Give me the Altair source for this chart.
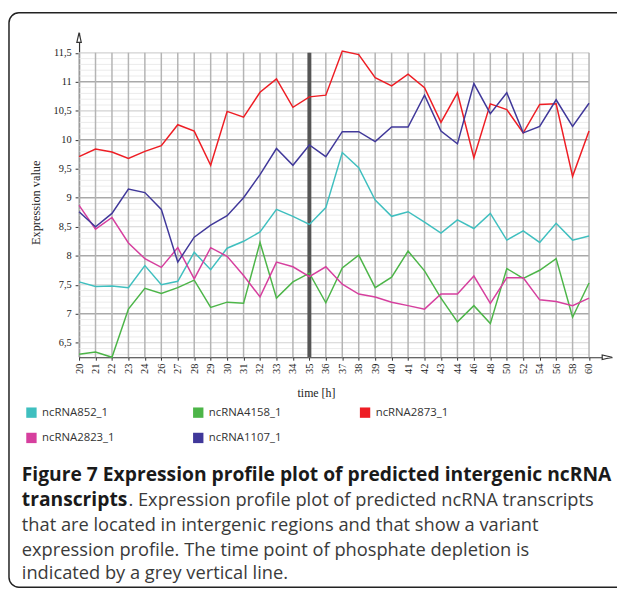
import altair as alt
import pandas as pd

# ---------------- data ----------------
times = ["20", "21", "22", "23", "24", "26", "27", "28", "29", "30", "31", "32",
         "33", "34", "35", "36", "37", "38", "39", "40", "41", "42", "43", "44",
         "46", "48", "50", "52", "54", "56", "58", "60"]

series_names = ["ncRNA852_1", "ncRNA4158_1", "ncRNA2873_1", "ncRNA2823_1", "ncRNA1107_1"]
series_colors = ["#3fbfbf", "#4cb548", "#ee1d24", "#d63f9e", "#40389a"]

ncRNA852_1 = [7.55, 7.47, 7.48, 7.45, 7.83, 7.50, 7.56, 8.06, 7.76, 8.13, 8.25, 8.41,
              8.80, 8.68, 8.54, 8.83, 9.78, 9.52, 8.96, 8.68, 8.76, 8.58, 8.39, 8.62,
              8.47, 8.73, 8.27, 8.43, 8.23, 8.56, 8.27, 8.34]
ncRNA4158_1 = [6.30, 6.34, 6.25, 7.08, 7.44, 7.35, 7.45, 7.58, 7.11, 7.20, 7.18, 8.23,
               7.27, 7.55, 7.70, 7.19, 7.79, 8.01, 7.45, 7.63, 8.08, 7.74, 7.27, 6.86,
               7.14, 6.83, 7.78, 7.61, 7.75, 7.95, 6.94, 7.53]
ncRNA2873_1 = [9.71, 9.84, 9.79, 9.68, 9.80, 9.90, 10.26, 10.15, 9.56, 10.49, 10.39, 10.82,
               11.05, 10.56, 10.74, 10.77, 11.53, 11.47, 11.07, 10.93, 11.13, 10.90, 10.30, 10.81,
               9.69, 10.62, 10.52, 10.12, 10.61, 10.62, 9.37, 10.15]
ncRNA2823_1 = [8.87, 8.46, 8.66, 8.22, 7.95, 7.80, 8.14, 7.60, 8.14, 7.99, 7.66, 7.29,
               7.89, 7.81, 7.64, 7.81, 7.51, 7.34, 7.29, 7.20, 7.14, 7.08, 7.34, 7.34,
               7.65, 7.18, 7.62, 7.62, 7.24, 7.21, 7.14, 7.27]
ncRNA1107_1 = [8.76, 8.50, 8.73, 9.15, 9.09, 8.80, 7.89, 8.32, 8.53, 8.69, 9.00, 9.40,
               9.85, 9.56, 9.91, 9.71, 10.14, 10.14, 9.97, 10.22, 10.22, 10.77, 10.15, 9.93,
               10.97, 10.45, 10.81, 10.12, 10.23, 10.69, 10.23, 10.63]

series_values = [ncRNA852_1, ncRNA4158_1, ncRNA2873_1, ncRNA2823_1, ncRNA1107_1]

y_tick_values = [6.5, 7, 7.5, 8, 8.5, 9, 9.5, 10, 10.5, 11, 11.5]
phosphate_time = "35"

caption_bold_1 = "Figure 7 Expression profile plot of predicted intergenic ncRNA"
caption_bold_2 = "transcripts"
caption_rest_2 = ". Expression profile plot of predicted ncRNA transcripts"
caption_lines = ["that are located in intergenic regions and that show a variant",
                 "expression profile. The time point of phosphate depletion is",
                 "indicated by a grey vertical line."]

# ---------------- tables ----------------
rows = []
for name, vals in zip(series_names, series_values):
    for i, (t, v) in enumerate(zip(times, vals)):
        rows.append({"idx": i, "time": t, "series": name, "value": v})
df = pd.DataFrame(rows)

GRID_LO, GRID_HI = 6.25, 11.5
Y_MIN, Y_MAX = 6.25, 11.85
X_MAX = 32.4
W, H = 540, 329
last_idx = len(times) - 1

minor_vals = [round(6.3 + 0.1 * k, 1) for k in range(53)]
minor_vals = [v for v in minor_vals if abs(v * 2 - round(v * 2)) > 1e-6]
half_vals = [v for v in y_tick_values if v % 1 != 0]
int_vals = [v for v in y_tick_values if v % 1 == 0]

xscale = alt.Scale(domain=[0, X_MAX], nice=False, zero=False)
yscale = alt.Scale(domain=[Y_MIN, Y_MAX], nice=False, zero=False)

label_array = "[" + ",".join("'" + t + "'" for t in times) + "]"
SERIF = "Liberation Serif"

xaxis = alt.Axis(values=list(range(len(times))), labelExpr=label_array + "[datum.value]",
                 labelAngle=270, labelFont=SERIF, labelFontSize=10.5, labelColor="#222",
                 tickSize=3, tickColor="#333", labelPadding=3, grid=False,
                 domainColor="#333", domainWidth=1.2,
                 titleFont=SERIF, titleFontSize=12, titleFontWeight="normal", titleColor="#222",
                 titleX=240, titleY=36, titleAlign="center", titleBaseline="middle")
yaxis = alt.Axis(values=y_tick_values,
                 labelExpr="replace(format(datum.value, '~g'), '.', ',')",
                 labelFont=SERIF, labelFontSize=10.5, labelColor="#222",
                 tickSize=4, tickColor="#333", labelPadding=4, grid=False,
                 domainColor="#333", domainWidth=1.2,
                 titleFont=SERIF, titleFontSize=12.5, titleFontWeight="normal", titleColor="#222",
                 titleAngle=270, titleX=-44, titleY=172, titleAlign="center", titleBaseline="middle")


def X(field):
    return alt.X(field, type="quantitative", scale=xscale, axis=xaxis, title="time [h]")


def Y(field):
    return alt.Y(field, type="quantitative", scale=yscale, axis=yaxis, title="Expression value")


def hgrid(vals, color, width):
    d = pd.DataFrame({"v": vals, "x0": 0, "x1": last_idx})
    return alt.Chart(d).mark_rule(color=color, strokeWidth=width).encode(
        x=X("x0"), x2="x1", y=Y("v"))


border = alt.Chart(pd.DataFrame({"a": [0]})).mark_rect(
    fill="white", fillOpacity=0, stroke="#222", strokeWidth=1.5, cornerRadius=10
).encode(x=alt.value(-71), x2=alt.value(700), y=alt.value(-20), y2=alt.value(562))

g_minor = hgrid(minor_vals, "#ebebeb", 1)
g_half = hgrid(half_vals, "#d2d2d2", 1.2)
g_int = hgrid(int_vals, "#a9a9a9", 1.5)

vg = pd.DataFrame({"idx": list(range(len(times))), "top": GRID_HI, "bot": GRID_LO})
g_vert = alt.Chart(vg).mark_rule(color="#b4b4b4", strokeWidth=1.5).encode(
    x=X("idx"), y=Y("top"), y2="bot")

ph = pd.DataFrame({"idx": [times.index(phosphate_time)], "top": GRID_HI, "bot": GRID_LO})
g_ph = alt.Chart(ph).mark_rule(color="#555555", strokeWidth=4).encode(
    x=X("idx"), y=Y("top"), y2="bot")

cscale = alt.Scale(domain=series_names, range=series_colors)
legend = alt.Legend(
    orient="none", legendX=-54, legendY=379, columns=3, direction="horizontal", title=None,
    symbolType="square", symbolSize=110, symbolStrokeWidth=0, symbolOpacity=1,
    labelFont="Open Sans", labelFontSize=11.5, labelColor="#333", labelOffset=5,
    columnPadding=78, rowPadding=13, gridAlign="all", padding=0)

# invisible filled squares that carry the colour legend
legend_carrier = alt.Chart(df).mark_square(filled=True, opacity=0, size=10).encode(
    x=X("idx"), y=Y("value"),
    color=alt.Color("series:N", scale=cscale, legend=legend))

lines = alt.Chart(df).mark_line(strokeWidth=1.5).encode(
    x=X("idx"), y=Y("value"),
    stroke=alt.Stroke("series:N", scale=cscale, legend=None))

arrow_up = alt.Chart(pd.DataFrame({"x": [0], "y": [Y_MAX]})).mark_point(
    shape="M0,-1L0.45,1L-0.45,1Z", filled=True, fill="white", stroke="#333",
    strokeWidth=1.2, size=100, yOffset=5, opacity=1).encode(x=X("x"), y=Y("y"))
arrow_right = alt.Chart(pd.DataFrame({"x": [X_MAX], "y": [Y_MIN]})).mark_point(
    shape="M1,0L-1,0.45L-1,-0.45Z", filled=True, fill="white", stroke="#333",
    strokeWidth=1.2, size=100, xOffset=-5, opacity=1).encode(x=X("x"), y=Y("y"))


def text_layer(txt, x, y, bold=False, color="#3a3a3a", size=18.5):
    return alt.Chart(pd.DataFrame({"t": [txt]})).mark_text(
        align="left", baseline="middle", font="Open Sans", fontSize=size,
        fontWeight="bold" if bold else "normal", color=color
    ).encode(text="t:N", x=alt.value(x), y=alt.value(y))


cap_x = -58
texts = [
    text_layer(caption_bold_1, cap_x, 448, bold=True, color="#1a1a1a", size=19.5),
    text_layer(caption_bold_2, cap_x, 474, bold=True, color="#1a1a1a", size=19.5),
    text_layer(caption_rest_2, cap_x + 108, 474),
    text_layer(caption_lines[0], cap_x, 499),
    text_layer(caption_lines[1], cap_x, 524),
    text_layer(caption_lines[2], cap_x, 548),
]

chart = alt.layer(
    border, g_minor, g_half, g_int, g_vert, g_ph, legend_carrier, lines,
    arrow_up, arrow_right, *texts
).properties(
    width=W, height=H,
    autosize=alt.AutoSizeParams(type="none"),
    padding={"left": 72, "top": 21, "right": 5, "bottom": 234},
    background="white",
).configure_view(stroke=None)

chart.save("out.html", embed_options={"renderer": "svg", "actions": False})
